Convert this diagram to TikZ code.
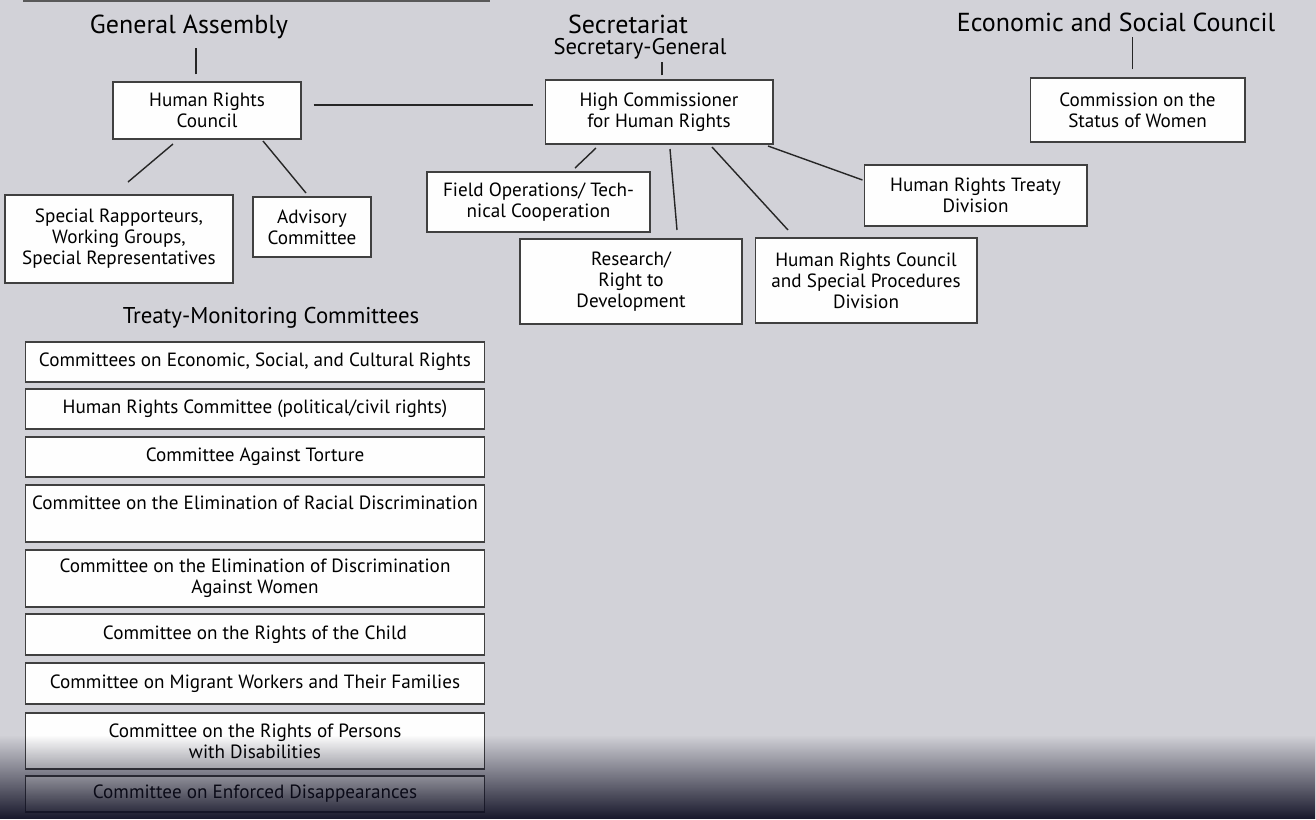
\documentclass[tikz,border=0pt]{standalone}
\usepackage{fontspec}
\setmainfont{PT Sans}
\usetikzlibrary{calc,fadings}

\newcommand{\bxfont}{\fontsize{10.9}{12}\selectfont}
\newcommand{\hdfont}{\fontsize{14.8}{16}\selectfont}
\newcommand{\sgfont}{\fontsize{12.9}{14}\selectfont}

\definecolor{paper}{RGB}{210,210,216}
\definecolor{scanshadow}{RGB}{16,16,36}

\tikzfading[name=scanfade, top color=transparent!100, middle color=transparent!78, bottom color=transparent!4]

\tikzset{
  orgbox/.style={draw=black!75, line width=0.6pt, fill=white!97!paper, align=center, inner sep=0pt, font=\bxfont},
  listbox/.style={orgbox, minimum width=9.2cm},
  heading/.style={font=\hdfont, inner sep=1pt},
  link/.style={draw=black!85, line width=0.8pt}
}

\begin{document}
\begin{tikzpicture}[x=0.02cm, y=-0.02cm]
  \fill[paper] (0,0) rectangle (1316,819);
  \useasboundingbox (0,0) rectangle (1316,819);
  \draw[line width=1.2pt, black!65] (23,0.6) -- (490,0.6);

  % headings
  \node[heading] (ga) at (189,27) {General Assembly};
  \node[heading] (sec) at (628,24) {Secretariat};
  \node[heading, font=\sgfont] (sg) at (640,49) {Secretary-General};
  \node[heading] (esc) at (1116,22) {Economic and Social Council};

  % organs
  \node[orgbox, minimum width=3.76cm, minimum height=1.14cm] (hrc) at (207,110.5) {Human Rights\\Council};
  \node[orgbox, minimum width=4.56cm, minimum height=1.28cm] (hc) at (659,112) {High Commissioner\\for Human Rights};
  \node[orgbox, minimum width=4.30cm, minimum height=1.28cm] (csw) at (1137.5,110) {Commission on the\\Status of Women};
  \node[orgbox, minimum width=4.56cm, minimum height=1.76cm] (sr) at (119,239) {Special Rapporteurs,\\Working Groups,\\Special Representatives};
  \node[orgbox, minimum width=2.36cm, minimum height=1.20cm] (adv) at (312,227) {Advisory\\Committee};
  \node[orgbox, minimum width=4.46cm, minimum height=1.20cm] (field) at (538.5,202) {Field Operations/ Tech-\\nical Cooperation};
  \node[orgbox, minimum width=4.44cm, minimum height=1.70cm] (res) at (631,281.5) {Research/\\Right to\\Development};
  \node[orgbox, minimum width=4.44cm, minimum height=1.70cm] (spd) at (866,280.5) {Human Rights Council\\and Special Procedures\\Division};
  \node[orgbox, minimum width=4.46cm, minimum height=1.22cm] (hrtd) at (975.5,195.5) {Human Rights Treaty\\Division};

  % treaty bodies
  \node[inner sep=1pt, font=\fontsize{13}{14}\selectfont] (tmc) at (271,318) {Treaty-Monitoring Committees};
  \node[listbox, minimum height=0.80cm] (cescr) at (255,362) {Committees on Economic, Social, and Cultural Rights};
  \node[listbox, minimum height=0.80cm] (ccpr) at (255,409) {Human Rights Committee (political/civil rights)};
  \node[listbox, minimum height=0.80cm] (cat) at (255,457) {Committee Against Torture};
  \node[listbox, minimum height=1.14cm] (cerd) at (255,513.5) {Committee on the Elimination of Racial Discrimination\\\mbox{}};
  \node[listbox, minimum height=1.14cm] (cedaw) at (255,578.5) {Committee on the Elimination of Discrimination\\Against Women};
  \node[listbox, minimum height=0.82cm] (crc) at (255,634.5) {Committee on the Rights of the Child};
  \node[listbox, minimum height=0.82cm] (cmw) at (255,683.5) {Committee on Migrant Workers and Their Families};
  \node[listbox, minimum height=1.12cm] (crpd) at (255,741) {Committee on the Rights of Persons\\with Disabilities};
  \node[listbox, minimum height=0.72cm] (ced) at (255,794) {Committee on Enforced Disappearances};

  % links
  \coordinate (hrcTop) at ($(hrc.north)+(-11,-7)$);
  \draw[link, shorten >=4pt] (hrcTop) -- (hrcTop |- ga.south);
  \coordinate (hcTop) at ($(hc.north)+(3,-4)$);
  \draw[link] (hcTop) -- (hcTop |- sg.south);
  \coordinate (cswTop) at ($(csw.north)+(-5,-8)$);
  \draw[link, shorten >=2pt] (cswTop) -- (cswTop |- esc.south);
  \draw[link] ($(hrc.east)+(12,-5.5)$) -- ($(hc.west)+(-12,-7)$);
  \draw[link] ($(hrc.center)+(-34,33.5)$) -- ($(sr.center)+(9,-57)$);
  \draw[link] ($(hrc.center)+(56,30.5)$) -- ($(adv.center)+(-6,-34)$);
  \draw[link] ($(hc.center)+(-63,36)$) -- ($(field.center)+(36.5,-34)$);
  \draw[link] ($(hc.center)+(11,37)$) -- ($(res.center)+(46,-51.5)$);
  \draw[link] ($(hc.center)+(53,35)$) -- ($(spd.center)+(-78,-50.5)$);
  \draw[link] ($(hc.center)+(109,34)$) -- ($(hrtd.center)+(-113,-15.5)$);

  % scan shadow
  \fill[scanshadow, path fading=scanfade] (0,735) rectangle (1316,819);
\end{tikzpicture}
\end{document}
